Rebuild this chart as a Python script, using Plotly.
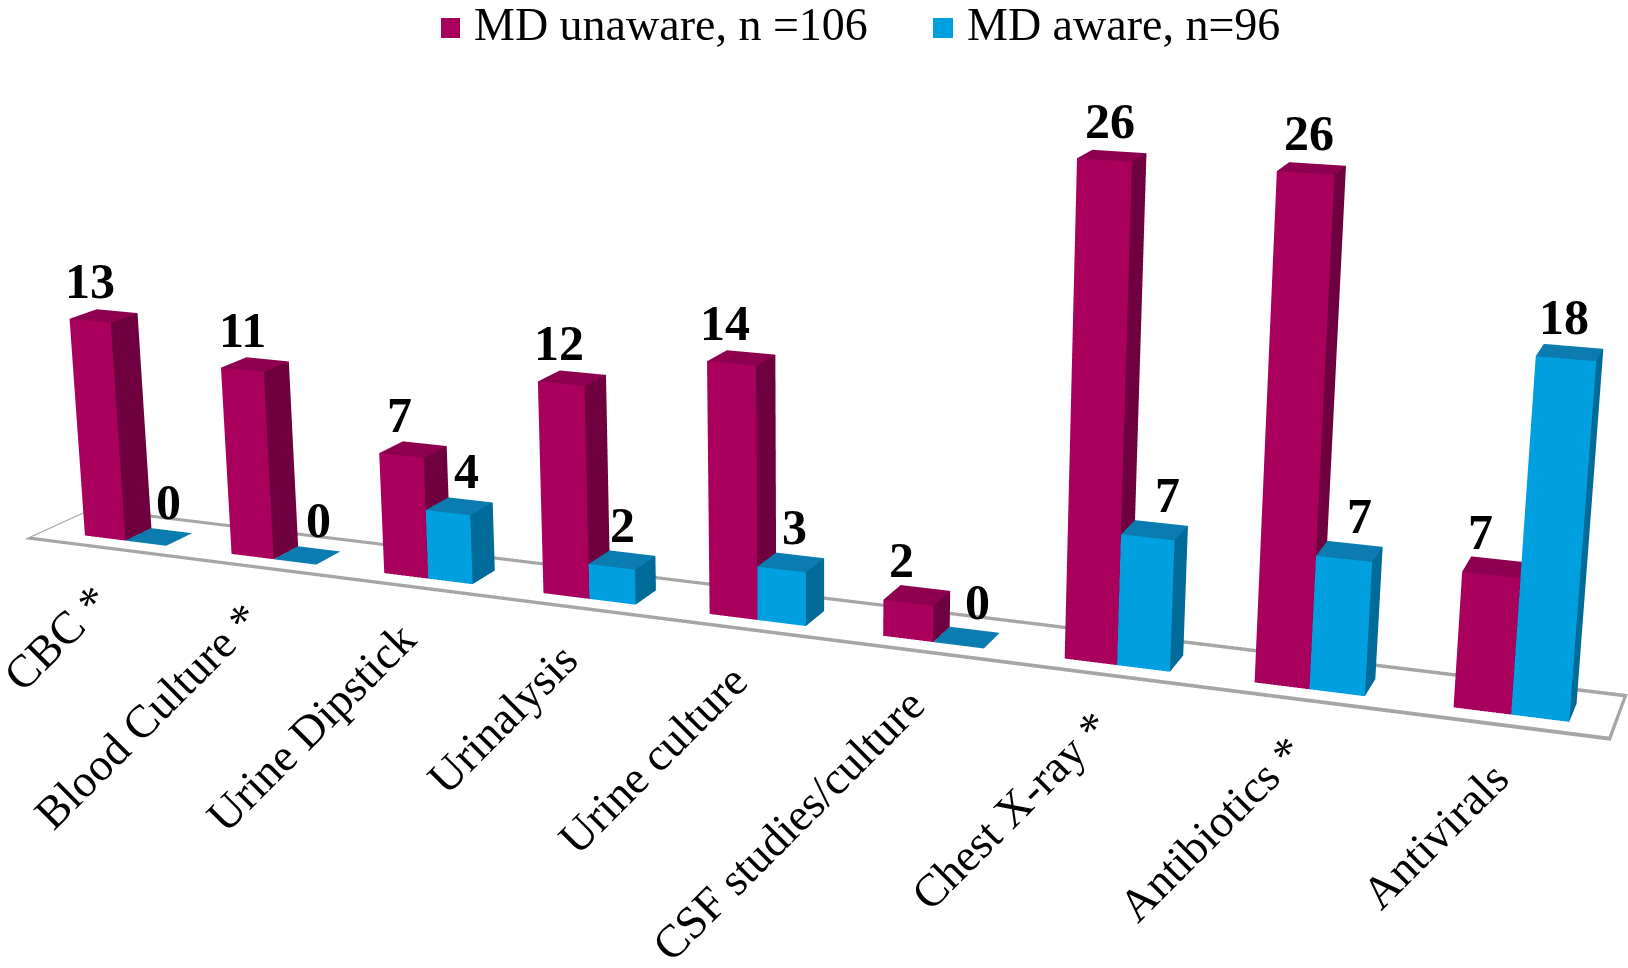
import math
import plotly.graph_objects as go

# Chart data
categories = ["CBC *", "Blood Culture *", "Urine Dipstick", "Urinalysis", "Urine culture",
              "CSF studies/culture", "Chest X-ray *", "Antibiotics *", "Antivirals"]
md_unaware = [13, 11, 7, 12, 14, 2, 26, 26, 7]
md_aware = [0, 0, 4, 2, 3, 0, 7, 7, 18]
series_names = ["MD unaware, n =106", "MD aware, n=96"]

# Sideways nudges of the value labels, in pixels
unaware_label_dx = [-14, -13, -14, -13, -16, -15, -2, -3, -15]
aware_label_dx = [10, 11, 7, 0, 4, 11, 13, 10, -6]

# Face colours: front, side, top
UNAWARE = ("#A8005C", "#6F0040", "#8E004F")
AWARE = ("#009FE0", "#006A99", "#0A7CAF")
FLOOR_COLOR = "#A6A6A6"

# Bar geometry in category units
BAR_W = 0.28
DEPTH_FRONT, DEPTH_BACK = 0.19, 0.46
FLOOR_LEFT, FLOOR_RIGHT = -0.07, 9.0
FLOOR_DEPTH = 0.70
EDGE_X, EDGE_Y = 0.016, 0.055
Z_MAX = 30
VALUE_UNIT = 0.1005  # height of one value, in category widths

# Page geometry: a tall canvas narrows the field of view, the top is shifted off-page
W, H = 1628, 2452
TOP = 742
FONT = "Liberation Serif"

# Camera
AZ = math.radians(21.3)
EL = math.radians(16)
DIST = 15.53 / 9
LOOK = (4.85, 0.13, 8.1)

ax, ay, az = (FLOOR_RIGHT - FLOOR_LEFT) / 9, FLOOR_DEPTH / 9, Z_MAX * VALUE_UNIT / 9
FLAT = dict(ambient=1, diffuse=0, specular=0, fresnel=0, roughness=1)


def to_scene(x, y, z):
    return ((x - (FLOOR_LEFT + FLOOR_RIGHT) / 2) / 9,
            (y - FLOOR_DEPTH / 2) / FLOOR_DEPTH * ay,
            (z - Z_MAX / 2) / Z_MAX * az)


class Quads:
    """Collects quadrilateral faces for a single flat-shaded mesh."""

    def __init__(self):
        self.xs, self.ys, self.zs, self.i, self.j, self.k, self.fc = [], [], [], [], [], [], []

    def add(self, pts, color):
        n = len(self.xs)
        for p in pts:
            self.xs.append(p[0]); self.ys.append(p[1]); self.zs.append(p[2])
        self.i.extend([n, n]); self.j.extend([n + 1, n + 2]); self.k.extend([n + 2, n + 3])
        self.fc.extend([color, color])

    def trace(self, name):
        return go.Mesh3d(x=self.xs, y=self.ys, z=self.zs, i=self.i, j=self.j, k=self.k, facecolor=self.fc,
                         flatshading=True, name=name, lighting=FLAT, hoverinfo="skip", showscale=False)


def bar_mesh(values, offset, colors, name):
    q = Quads()
    for c, v in enumerate(values):
        x0 = c + 0.5 + offset
        x1 = x0 + BAR_W
        y0, y1 = DEPTH_FRONT, DEPTH_BACK
        if v > 0:
            q.add([(x0, y0, 0), (x1, y0, 0), (x1, y0, v), (x0, y0, v)], colors[0])
            q.add([(x1, y0, 0), (x1, y1, 0), (x1, y1, v), (x1, y0, v)], colors[1])
        q.add([(x0, y0, v), (x1, y0, v), (x1, y1, v), (x0, y1, v)], colors[2])
    return q.trace(name)


def floor_frame():
    q = Quads()
    d, l, r = FLOOR_DEPTH, FLOOR_LEFT, FLOOR_RIGHT
    q.add([(l, 0, 0), (r, 0, 0), (r, EDGE_Y, 0), (l, EDGE_Y, 0)], FLOOR_COLOR)
    q.add([(l, d - EDGE_Y, 0), (r, d - EDGE_Y, 0), (r, d, 0), (l, d, 0)], FLOOR_COLOR)
    q.add([(l, 0, 0), (l + EDGE_X, 0, 0), (l + EDGE_X, d, 0), (l, d, 0)], FLOOR_COLOR)
    q.add([(r - EDGE_X, 0, 0), (r, 0, 0), (r, d, 0), (r - EDGE_X, d, 0)], FLOOR_COLOR)
    return q.trace("floor")


fig = go.Figure()
fig.add_trace(floor_frame())
fig.add_trace(bar_mesh(md_unaware, -BAR_W, UNAWARE, series_names[0]))
fig.add_trace(bar_mesh(md_aware, 0, AWARE, series_names[1]))

annotations = []
for c, name in enumerate(categories):
    annotations.append(dict(x=c + 0.5, y=0, z=0, text=name, showarrow=False, textangle=-45,
                            xanchor="right", yanchor="top", xshift=16, yshift=-22,
                            font=dict(family=FONT, size=46, color="black")))
for values, offset, nudges in ((md_unaware, -BAR_W / 2, unaware_label_dx), (md_aware, BAR_W / 2, aware_label_dx)):
    for c, v in enumerate(values):
        annotations.append(dict(x=c + 0.5 + offset, y=DEPTH_BACK / 2 + DEPTH_FRONT / 2, z=v, text=f"<b>{v}</b>",
                                showarrow=False, xanchor="center", yanchor="bottom", yshift=5, xshift=nudges[c],
                                font=dict(family=FONT, size=50, color="black")))

cx, cy, cz = to_scene(*LOOK)
eye = (cx + DIST * math.sin(AZ) * math.cos(EL),
       cy - DIST * math.cos(AZ) * math.cos(EL),
       cz + DIST * math.sin(EL))


def py(v):
    return 1 - (TOP + v) / H


def px(v):
    return v / W


# Legend keys and labels
shapes, paper_notes = [], []
for (x0, x1, tx), name, col in zip(((441, 460, 472), (933, 953, 965)), series_names, (UNAWARE[0], AWARE[0])):
    shapes.append(dict(type="rect", xref="paper", yref="paper", x0=px(x0), x1=px(x1), y0=py(38), y1=py(18),
                       fillcolor=col, line=dict(width=0)))
    paper_notes.append(dict(xref="paper", yref="paper", x=px(tx), y=py(24), text=name, showarrow=False,
                            xanchor="left", yanchor="middle", font=dict(family=FONT, size=46, color="black")))

hidden = dict(visible=False, showgrid=False, zeroline=False, showticklabels=False, showspikes=False)
fig.update_layout(
    width=W, height=H, margin=dict(l=0, r=0, t=0, b=0), paper_bgcolor="white", showlegend=False,
    shapes=shapes, annotations=paper_notes,
    scene=dict(
        domain=dict(x=[0, 1], y=[0, 1]),
        xaxis=dict(range=[FLOOR_LEFT, FLOOR_RIGHT], **hidden),
        yaxis=dict(range=[0, FLOOR_DEPTH], **hidden),
        zaxis=dict(range=[0, Z_MAX], **hidden),
        aspectmode="manual", aspectratio=dict(x=ax, y=ay, z=az),
        camera=dict(eye=dict(x=eye[0], y=eye[1], z=eye[2]), center=dict(x=cx, y=cy, z=cz),
                    up=dict(x=0, y=0, z=1), projection=dict(type="perspective")),
        annotations=annotations,
    ),
)

shift_page = ("var gd=document.getElementById('{plot_id}');gd.style.marginTop='-%dpx';"
              "document.documentElement.style.overflow='hidden';document.body.style.overflow='hidden';" % TOP)
fig.write_html("out.html", post_script=shift_page, config=dict(displayModeBar=False))
